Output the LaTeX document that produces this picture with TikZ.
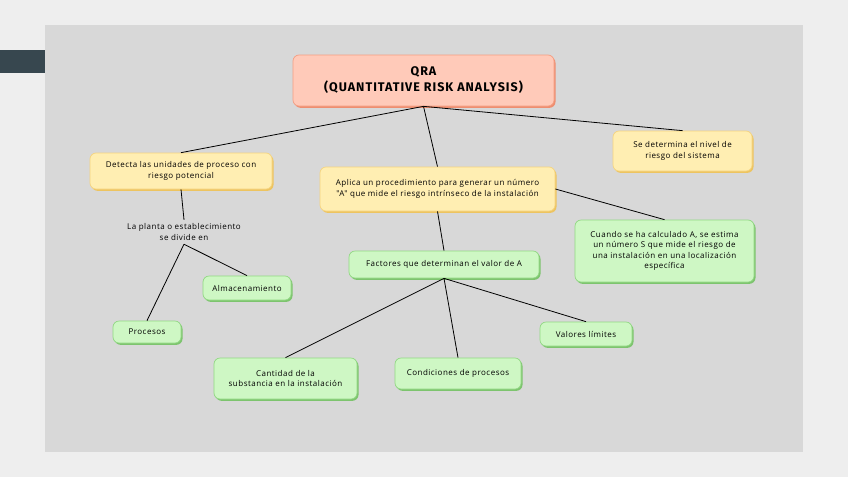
\documentclass[tikz,border=0pt]{standalone}
\usepackage{fontspec}
\setmainfont{Open Sans}[LetterSpace=6]
\newfontfamily\titlefont{Fira Sans}[LetterSpace=8]
\usetikzlibrary{shadows}
\definecolor{pagebg}{HTML}{EEEEEE}
\definecolor{panel}{HTML}{D8D8D8}
\definecolor{bar}{HTML}{37474F}
\definecolor{rdfill}{HTML}{FFCAB9}
\definecolor{rdborder}{HTML}{F59E82}
\definecolor{rdshadow}{HTML}{EE8E70}
\definecolor{ylfill}{HTML}{FFEEB2}
\definecolor{ylborder}{HTML}{F6D47E}
\definecolor{ylshadow}{HTML}{EDC460}
\definecolor{grfill}{HTML}{CEF7C4}
\definecolor{grborder}{HTML}{90D882}
\definecolor{grshadow}{HTML}{7DC46E}
\tikzset{
  box/.style={rounded corners=6pt, draw, line width=0.7pt, align=center, inner sep=2pt,
    font=\fontsize{8}{10.5}\selectfont},
  redbox/.style={box, fill=rdfill, draw=rdborder,
    drop shadow={shadow xshift=1.5pt, shadow yshift=-1.8pt, fill=rdshadow, opacity=1},
    font=\titlefont\bfseries\fontsize{12.5}{16}\selectfont},
  yellowbox/.style={box, fill=ylfill, draw=ylborder,
    drop shadow={shadow xshift=1.5pt, shadow yshift=-1.8pt, fill=ylshadow, opacity=1}},
  greenbox/.style={box, fill=grfill, draw=grborder,
    drop shadow={shadow xshift=1.5pt, shadow yshift=-1.8pt, fill=grshadow, opacity=1}},
  plain/.style={align=center, inner sep=1pt, font=\fontsize{8}{10.5}\selectfont},
  link/.style={draw=black, line width=0.8pt}
}
\begin{document}
\begin{tikzpicture}[x=1pt,y=-1pt]
\useasboundingbox (0,0) rectangle (848,477);
\fill[pagebg] (0,0) rectangle (848,477);
\fill[panel] (45,25) rectangle (803,452);
\fill[bar] (0,50) rectangle (45,73);

\node[redbox, minimum width=261pt, minimum height=51pt] (qra) at (423.5,80.5)
  {QRA\\(QUANTITATIVE RISK ANALYSIS)};
\node[yellowbox, minimum width=182pt, minimum height=36pt] (detecta) at (181,171)
  {Detecta las unidades de proceso con\\riesgo potencial};
\node[yellowbox, minimum width=139pt, minimum height=40pt] (nivel) at (682.5,151)
  {Se determina el nivel de\\riesgo del sistema};
\node[yellowbox, minimum width=235pt, minimum height=44pt] (aplica) at (437.5,189)
  {Aplica un procedimiento para generar un número\\{\addfontfeature{Ligatures=TeXOff}"A"} que mide el riesgo intrínseco de la instalación};
\node[plain, minimum height=24pt] (planta) at (184,232)
  {La planta o establecimiento\\se divide en};
\node[greenbox, minimum width=88pt, minimum height=24pt] (almac) at (247,288)
  {Almacenamiento};
\node[greenbox, minimum width=68pt, minimum height=22pt] (procesos) at (147,332)
  {Procesos};
\node[greenbox, minimum width=190pt, minimum height=27pt] (factores) at (444,264.5)
  {Factores que determinan el valor de A};
\node[greenbox, minimum width=179pt, minimum height=62pt] (cuando) at (664.5,251)
  {Cuando se ha calculado A, se estima\\un número S que mide el riesgo de\\una instalación en una localización\\específica};
\node[greenbox, minimum width=143pt, minimum height=41pt] (cantidad) at (285.5,378.5)
  {Cantidad de la\\substancia en la instalación};
\node[greenbox, minimum width=126pt, minimum height=31pt] (condic) at (458,373.5)
  {Condiciones de procesos};
\node[greenbox, minimum width=92pt, minimum height=24pt] (valores) at (586,334)
  {Valores límites};

\draw[link] (qra.south) -- (detecta.north);
\draw[link] (qra.south) -- (aplica.north);
\draw[link] (qra.south) -- (nivel.north);
\draw[link] (detecta.south) -- (planta.north);
\draw[link] (planta.south) -- (procesos.north);
\draw[link] (planta.south) -- (almac.north);
\draw[link] (aplica.south) -- (factores.north);
\draw[link] (aplica.east) -- (cuando.north);
\draw[link] (factores.south) -- (cantidad.north);
\draw[link] (factores.south) -- (condic.north);
\draw[link] (factores.south) -- (valores.north);
\end{tikzpicture}
\end{document}
